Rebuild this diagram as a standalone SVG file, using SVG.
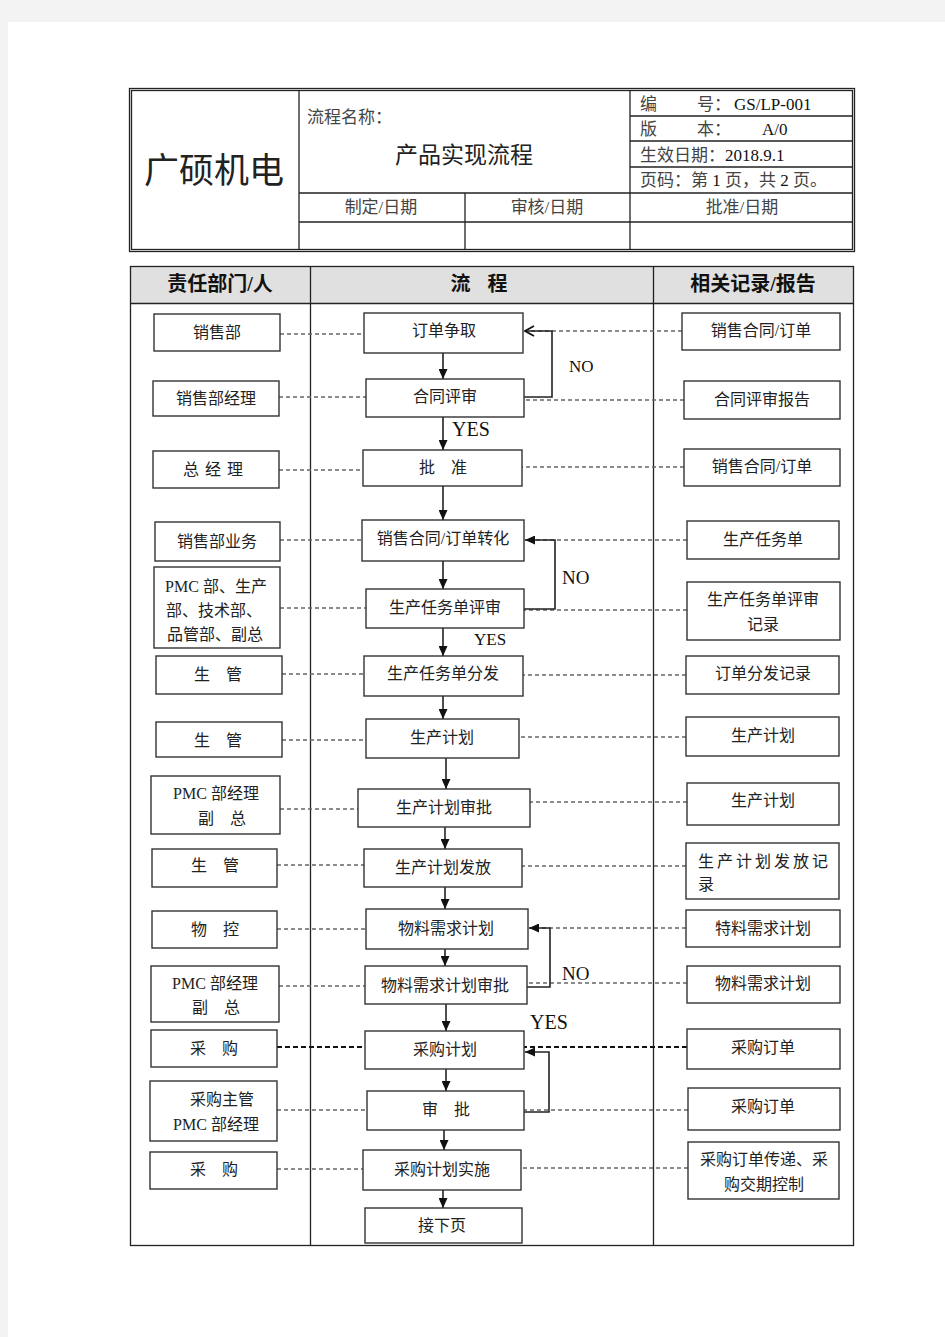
<svg xmlns="http://www.w3.org/2000/svg" width="945" height="1337" viewBox="0 0 945 1337">
<style>
.t{font-family:"Liberation Serif","Noto Sans CJK SC",serif;fill:#222}
.b{font-size:16px;text-anchor:middle}
.h{font-size:17px;fill:#444}
.hd{font-size:20px;font-weight:bold;text-anchor:middle;fill:#111}
.box{fill:#fff;stroke:#333;stroke-width:1.4}
.grid{fill:none;stroke:#222;stroke-width:1.3}
.dash{stroke:#666;stroke-width:1.5;stroke-dasharray:4 3;fill:none}
.dashb{stroke:#111;stroke-width:2;stroke-dasharray:5 3;fill:none}
.arr{stroke:#222;stroke-width:1.6;fill:none}
.lbl{font-family:"Liberation Serif",serif;fill:#111}
</style>
<defs>
<marker id="ah" markerUnits="userSpaceOnUse" markerWidth="10" markerHeight="9" refX="10" refY="4.5" orient="auto">
<path d="M0,0 L10,4.5 L0,9 z" fill="#111"/>
</marker>
<marker id="chev" markerUnits="userSpaceOnUse" markerWidth="12" markerHeight="12" refX="11" refY="6" orient="auto">
<path d="M2,1 L11,6 L2,11" fill="none" stroke="#111" stroke-width="1.8"/>
</marker>
</defs>
<rect width="945" height="1337" fill="#f3f3f3"/>
<rect x="8" y="22" width="937" height="1315" fill="#fff"/>

<g id="header">
<rect x="129.5" y="88.5" width="725" height="163" class="grid"/>
<rect x="131.5" y="90.5" width="721" height="159" class="grid"/>
<path class="grid" d="M299,90 V250 M630,90 V250 M465,193 V250 M299,193 H852 M299,222 H852 M630,116 H852 M630,141 H852 M630,167 H852"/>
<text class="t" x="214" y="183" font-size="35" text-anchor="middle" fill="#222">广硕机电</text>
<text class="t h" x="307" y="123">流程名称：</text>
<text class="t" x="464" y="163" font-size="23" text-anchor="middle" fill="#111">产品实现流程</text>
<text class="t h" y="110"><tspan x="640">编</tspan><tspan x="697">号：</tspan><tspan x="734" fill="#111">GS/LP-001</tspan></text>
<text class="t h" y="135"><tspan x="640">版</tspan><tspan x="697">本：</tspan><tspan x="762" fill="#111">A/0</tspan></text>
<text class="t h" x="640" y="161">生效日期：<tspan fill="#111">2018.9.1</tspan></text>
<text class="t h" x="640" y="186">页码：第 <tspan fill="#111">1</tspan> 页，共 <tspan fill="#111">2</tspan> 页。</text>
<text class="t h" x="381" y="213" text-anchor="middle">制定/日期</text>
<text class="t h" x="547" y="213" text-anchor="middle">审核/日期</text>
<text class="t h" x="742" y="213" text-anchor="middle">批准/日期</text>
</g>

<g id="table">
<rect x="130.5" y="266.5" width="723" height="37" fill="#e0e0e0"/>
<rect x="130.5" y="266.5" width="723" height="979" class="grid"/>
<path class="grid" d="M130,303.5 H853 M310.5,266 V1245 M653.5,266 V1245"/>
<text class="t hd" x="220" y="291">责任部门/人</text>
<text class="t hd" x="482" y="291" letter-spacing="6">流 程</text>
<text class="t hd" x="753" y="291">相关记录/报告</text>
</g>

<g id="connectors">
<!-- left dashes -->
<path class="dash" d="M280,334 H364 M279,397 H366 M279,470 H363 M280,540 H362 M280,608 H366 M282,674 H364 M282,740 H366 M280,809 H358 M277,865 H364 M277,929 H366 M279,986 H365 M277,1110 H367 M277,1169 H363"/>
<path class="dashb" d="M277,1047 H365"/>
<!-- right dashes -->
<path class="dash" d="M682,331 H530 M684,400 H524 M684,467 H522 M687,540 H530 M687,610 H524 M686,675 H523 M686,737 H519 M687,802 H530 M686,866 H522 M686,928 H532 M687,983 H527 M688,1110 H524 M688,1168 H521"/>
<path class="dashb" d="M687,1047 H524"/>
<!-- vertical arrows -->
<g class="arr" marker-end="url(#ah)">
<line x1="443" y1="353" x2="443" y2="379"/>
<line x1="443" y1="417" x2="443" y2="450"/>
<line x1="443" y1="486" x2="443" y2="520"/>
<line x1="443" y1="561" x2="443" y2="589"/>
<line x1="443" y1="628" x2="443" y2="656"/>
<line x1="443" y1="696" x2="443" y2="719"/>
<line x1="446" y1="758" x2="446" y2="789"/>
<line x1="445" y1="827" x2="445" y2="849"/>
<line x1="445" y1="887" x2="445" y2="909"/>
<line x1="445" y1="949" x2="445" y2="966"/>
<line x1="446" y1="1004" x2="446" y2="1031"/>
<line x1="446" y1="1069" x2="446" y2="1091"/>
<line x1="444" y1="1130" x2="444" y2="1150"/>
<line x1="443" y1="1190" x2="443" y2="1208"/>
</g>
<!-- loops -->
<path class="arr" d="M524,397 H552 V331 H525" marker-end="url(#chev)"/>
<path class="arr" d="M524,609 H555 V540 H525" marker-end="url(#ah)"/>
<path class="arr" d="M527,987 H550 V928 H529" marker-end="url(#ah)"/>
<path class="arr" d="M524,1112 H549 V1052 H525" marker-end="url(#ah)"/>
<text class="lbl" x="569" y="372" font-size="17">NO</text>
<text class="lbl" x="452" y="436" font-size="20">YES</text>
<text class="lbl" x="562" y="584" font-size="19">NO</text>
<text class="lbl" x="474" y="645" font-size="17">YES</text>
<text class="lbl" x="562" y="980" font-size="19">NO</text>
<text class="lbl" x="530" y="1029" font-size="20">YES</text>
</g>

<!-- left column -->
<g id="L1"><rect class="box" x="154" y="314" width="126" height="37"/><text class="t b" x="217" y="338">销售部</text></g>
<g id="L2"><rect class="box" x="153" y="381" width="126" height="35"/><text class="t b" x="216" y="404">销售部经理</text></g>
<g id="L3"><rect class="box" x="153" y="451" width="126" height="37"/><text class="t b" x="216" y="475" letter-spacing="6">总经理</text></g>
<g id="L4"><rect class="box" x="155" y="522" width="125" height="39"/><text class="t b" x="217" y="547">销售部业务</text></g>
<g id="L5"><rect class="box" x="154" y="567" width="126" height="81"/><text class="t b" x="216" y="592">PMC 部、生产</text><text class="t b" x="214" y="616">部、技术部、</text><text class="t b" x="215" y="640">品管部、副总</text></g>
<g id="L6"><rect class="box" x="156" y="656" width="126" height="38"/><text class="t b" x="218" y="680">生　管</text></g>
<g id="L7"><rect class="box" x="156" y="722" width="126" height="35"/><text class="t b" x="218" y="746">生　管</text></g>
<g id="L8"><rect class="box" x="151" y="776" width="129" height="58"/><text class="t b" x="216" y="799">PMC 部经理</text><text class="t b" x="222" y="824">副　总</text></g>
<g id="L9"><rect class="box" x="152" y="849" width="125" height="38"/><text class="t b" x="215" y="871">生　管</text></g>
<g id="L10"><rect class="box" x="152" y="911" width="125" height="37"/><text class="t b" x="215" y="935">物　控</text></g>
<g id="L11"><rect class="box" x="151" y="966" width="128" height="56"/><text class="t b" x="215" y="989">PMC 部经理</text><text class="t b" x="216" y="1013">副　总</text></g>
<g id="L12"><rect class="box" x="151" y="1030" width="126" height="37"/><text class="t b" x="214" y="1054">采　购</text></g>
<g id="L13"><rect class="box" x="150" y="1081" width="127" height="60"/><text class="t b" x="222" y="1105">采购主管</text><text class="t b" x="216" y="1130">PMC 部经理</text></g>
<g id="L14"><rect class="box" x="150" y="1152" width="127" height="37"/><text class="t b" x="214" y="1175">采　购</text></g>

<!-- middle column -->
<g id="M1"><rect class="box" x="364" y="313" width="159" height="40"/><text class="t b" x="444" y="336">订单争取</text></g>
<g id="M2"><rect class="box" x="366" y="379" width="158" height="38"/><text class="t b" x="445" y="402">合同评审</text></g>
<g id="M3"><rect class="box" x="363" y="450" width="159" height="36"/><text class="t b" x="443" y="473">批　准</text></g>
<g id="M4"><rect class="box" x="362" y="520" width="162" height="41"/><text class="t b" x="443" y="544">销售合同/订单转化</text></g>
<g id="M5"><rect class="box" x="366" y="589" width="158" height="39"/><text class="t b" x="445" y="613">生产任务单评审</text></g>
<g id="M6"><rect class="box" x="364" y="656" width="159" height="40"/><text class="t b" x="443" y="679">生产任务单分发</text></g>
<g id="M7"><rect class="box" x="366" y="719" width="153" height="39"/><text class="t b" x="442" y="743">生产计划</text></g>
<g id="M8"><rect class="box" x="358" y="789" width="172" height="38"/><text class="t b" x="444" y="813">生产计划审批</text></g>
<g id="M9"><rect class="box" x="364" y="849" width="158" height="38"/><text class="t b" x="443" y="873">生产计划发放</text></g>
<g id="M10"><rect class="box" x="366" y="909" width="162" height="40"/><text class="t b" x="446" y="934">物料需求计划</text></g>
<g id="M11"><rect class="box" x="365" y="966" width="162" height="38"/><text class="t b" x="445" y="991">物料需求计划审批</text></g>
<g id="M12"><rect class="box" x="365" y="1031" width="159" height="38"/><text class="t b" x="445" y="1055">采购计划</text></g>
<g id="M13"><rect class="box" x="367" y="1091" width="157" height="39"/><text class="t b" x="446" y="1115">审　批</text></g>
<g id="M14"><rect class="box" x="363" y="1150" width="158" height="40"/><text class="t b" x="442" y="1175">采购计划实施</text></g>
<g id="M15"><rect class="box" x="365" y="1208" width="157" height="35"/><text class="t b" x="442" y="1231">接下页</text></g>

<!-- right column -->
<g id="R1"><rect class="box" x="682" y="313" width="158" height="37"/><text class="t b" x="761" y="336">销售合同/订单</text></g>
<g id="R2"><rect class="box" x="684" y="381" width="156" height="38"/><text class="t b" x="762" y="405">合同评审报告</text></g>
<g id="R3"><rect class="box" x="684" y="449" width="156" height="37"/><text class="t b" x="762" y="472">销售合同/订单</text></g>
<g id="R4"><rect class="box" x="687" y="521" width="152" height="38"/><text class="t b" x="763" y="545">生产任务单</text></g>
<g id="R5"><rect class="box" x="687" y="582" width="153" height="58"/><text class="t b" x="763" y="605">生产任务单评审</text><text class="t b" x="763" y="630">记录</text></g>
<g id="R6"><rect class="box" x="686" y="656" width="153" height="38"/><text class="t b" x="763" y="679">订单分发记录</text></g>
<g id="R7"><rect class="box" x="686" y="717" width="153" height="39"/><text class="t b" x="763" y="741">生产计划</text></g>
<g id="R8"><rect class="box" x="687" y="783" width="152" height="42"/><text class="t b" x="763" y="806">生产计划</text></g>
<g id="R9"><rect class="box" x="686" y="843" width="153" height="56"/><text class="t" font-size="16" x="698" y="867" textLength="130" lengthAdjust="spacing">生产计划发放记</text><text class="t" font-size="16" x="698" y="890">录</text></g>
<g id="R10"><rect class="box" x="686" y="910" width="154" height="37"/><text class="t b" x="763" y="934">特料需求计划</text></g>
<g id="R11"><rect class="box" x="687" y="966" width="153" height="37"/><text class="t b" x="763" y="989">物料需求计划</text></g>
<g id="R12"><rect class="box" x="687" y="1029" width="153" height="40"/><text class="t b" x="763" y="1053">采购订单</text></g>
<g id="R13"><rect class="box" x="688" y="1088" width="152" height="42"/><text class="t b" x="763" y="1112">采购订单</text></g>
<g id="R14"><rect class="box" x="688" y="1142" width="151" height="57"/><text class="t b" x="764" y="1165">采购订单传递、采</text><text class="t b" x="764" y="1190">购交期控制</text></g>
</svg>
